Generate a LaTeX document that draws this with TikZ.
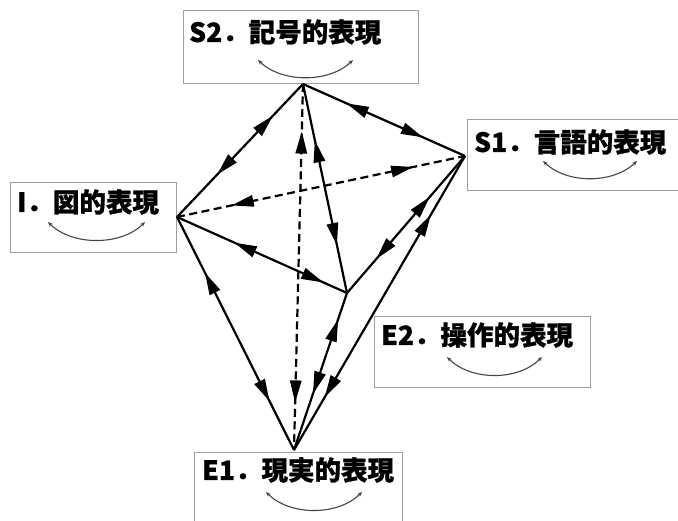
\documentclass[tikz,border=0pt]{standalone}
\usepackage{fontspec}
\newfontfamily\jp{Noto Sans CJK JP}[BoldFeatures={FakeBold=1}]
\usetikzlibrary{arrows.meta,decorations.markings}
\tikzset{
 edge/.style={line width=2.2pt, black},
 dashedge/.style={edge, dash pattern=on 8pt off 4.5pt},
 bi/.style 2 args={postaction={decorate},decoration={markings,
   mark=at position #1 with {\fill[black,solid] (0pt,0pt) -- (22pt,6pt) -- (22pt,-6pt) -- cycle;},
   mark=at position #2 with {\fill[black,solid] (0pt,0pt) -- (-22pt,6pt) -- (-22pt,-6pt) -- cycle;}}},
 box/.style={draw=gray!75, line width=1pt, fill=white, inner sep=0},
 lbl/.style={font=\jp\bfseries\fontsize{26.5}{30}\selectfont, anchor=west, inner sep=0},
 loop/.style={draw=gray!55!black, line width=1.1pt, {Stealth[length=5pt,width=4pt]}-{Stealth[length=5pt,width=4pt]}},
}
\begin{document}
\begin{tikzpicture}[x=1pt,y=-1pt]
\useasboundingbox (0,0) rectangle (678,521);
% boxes
\node[box, minimum width=235pt, minimum height=73pt, anchor=north west] (s2box) at (183,10) {};
\node[box, minimum width=220pt, minimum height=71pt, anchor=north west] (s1box) at (467,119) {};
\node[box, minimum width=166pt, minimum height=70pt, anchor=north west] (ibox) at (10,182) {};
\node[box, minimum width=216pt, minimum height=71pt, anchor=north west] (e2box) at (374,316) {};
\node[box, minimum width=208pt, minimum height=80pt, anchor=north west] (e1box) at (194,452) {};
% labels
\node[lbl] (s2lbl) at (189,32) {S2．記号的表現};
\node[lbl] (s1lbl) at (474,142) {S1．言語的表現};
\node[lbl] (ilbl) at (17,202) {I．図的表現};
\node[lbl] (e2lbl) at (381,335) {E2．操作的表現};
\node[lbl] (e1lbl) at (202,470) {E1．現実的表現};
% small loops
\draw[loop] (258,60) .. controls (282,83) and (329,83) .. (353,60);
\draw[loop] (543,161) .. controls (567,184) and (613,184) .. (637,161);
\draw[loop] (48,222) .. controls (72,246) and (121,246) .. (145,222);
\draw[loop] (447,357) .. controls (471,381) and (518,381) .. (542,357);
\draw[loop] (266,492) .. controls (290,516) and (338,516) .. (362,492);
% vertices
\coordinate (S2) at (303,84);
\coordinate (S1) at (465,156);
\coordinate (I) at (177,217);
\coordinate (E2) at (347,293);
\coordinate (E1) at (294,450);
% edges
\draw[dashedge, bi={0.13}{0.87}] (S2) -- (E1);
\draw[dashedge, bi={0.19}{0.82}] (I) -- (S1);
\draw[edge, bi={0.24}{0.68}] (S2) -- (I);
\draw[edge, bi={0.27}{0.74}] (S2) -- (S1);
\draw[edge, bi={0.27}{0.77}] (S2) -- (E2);
\draw[edge, bi={0.34}{0.86}] (I) -- (E2);
\draw[edge, bi={0.30}{0.75}] (S1) -- (E2);
\draw[edge, bi={0.20}{0.82}] (S1) -- (E1);
\draw[edge, bi={0.24}{0.79}] (I) -- (E1);
\draw[edge, bi={0.17}{0.64}] (E2) -- (E1);
\end{tikzpicture}
\end{document}
